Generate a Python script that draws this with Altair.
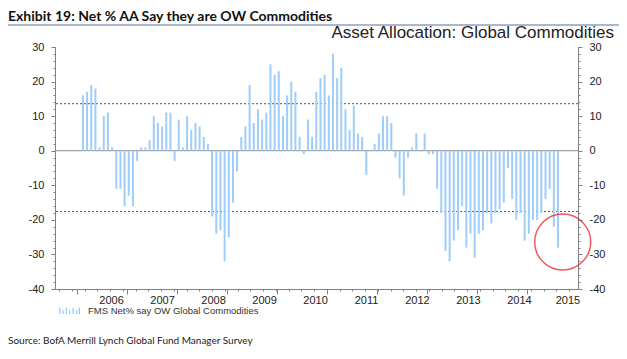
import altair as alt
import pandas as pd

# ---- data (monthly, Jul 2005 .. Jan 2015) ----
start_label = "Jul 2005"
values = [
    16, 17, 19, 18, 1, 10, 11, 1, -11, -11, -16, -13, -16, -3, 1, 1, 3, 10, 8, 7, 11, 11, -3, 9, 1, 10, 6,
    8, 7, 4, 2, -19, -24, -23, -32, -25, -15, -6, 4, 7, 19, 8, 12, 9, 11, 25, 22, 23, 10, 16, 20, 17, 4, -1, 9, 4, 17,
    21, 22, 16, 28, 21, 24, 12, 6, 13, 5, 4, -7, 0, 2, 5, 10, 10, 8, -2, -8, -13, -2, 1, 5, 0, 5, -1, -1, -11, -18, -29,
    -32, -26, -23, -16, -28, -24, -31, -24, -23, -18, -21, -18, -17, -15, -5, -14, -20, -18, -26, -24, -20, -20, -18, -14, -11, -22, -28,
]
months = list(range(len(values)))
year_labels = ["2006", "2007", "2008", "2009", "2010", "2011", "2012", "2013", "2014", "2015"]
year_label_pos = [7.7, 19.7, 31.7, 43.7, 55.7, 67.7, 79.7, 91.7, 103.7, 115.1]
year_tick_pos = [-1.5, 10.5, 22.5, 34.5, 46.5, 58.5, 70.5, 82.5, 94.5, 106.5]
quarter_tick_pos = [-4.5 + 3 * k for k in range(41)]
y_major = [-40, -30, -20, -10, 0, 10, 20, 30]
y_minor = list(range(-40, 31, 2))
mean_plus_sd = 13.6
mean_minus_sd = -17.6

title_text = "Exhibit 19: Net % AA Say they are OW Commodities"
subtitle_text = "Asset Allocation: Global Commodities"
legend_text = "FMS Net% say OW Global Commodities"
source_text = "Source: BofA Merrill Lynch Global Fund Manager Survey"

bar_color = "#9fcdfb"
axis_gray = "#808080"
arial = "Liberation Sans, Arial, Helvetica, sans-serif"
narrow = "Lato, Liberation Sans, sans-serif"

df = pd.DataFrame({"i": months, "v": values, "series": legend_text})
label_map = "{" + ",".join(f"'{p:g}':'{t}'" for p, t in zip(year_label_pos, year_labels)) + "}"

xs = alt.Scale(domain=[-5.5, 117.6], nice=False, zero=False)
ys = alt.Scale(domain=[-40, 30], nice=False, zero=False)

common = dict(grid=False, title=None, domainColor=axis_gray, tickColor=axis_gray,
              labelFont=arial, labelFontSize=11, labelColor="#222222")

swatch_path = ("M-1,0.33h0.13v-0.6h-0.13Z M-0.68,0.33h0.13v-0.35h-0.13Z M-0.36,0.33h0.13v-0.6h-0.13Z "
               "M-0.04,0.33h0.13v-0.35h-0.13Z M0.28,0.33h0.13v-0.6h-0.13Z M0.6,0.33h0.13v-0.35h-0.13Z "
               "M0.87,0.33h0.13v-0.6h-0.13Z")

bars = alt.Chart(df).mark_bar(width=2).encode(
    x=alt.X("i:Q", scale=xs, axis=alt.Axis(orient="bottom", values=year_tick_pos, labels=False,
                                           tickSize=5, **common)),
    y=alt.Y("v:Q", scale=ys, stack=None,
            axis=alt.Axis(orient="left", values=y_major, tickSize=4, labelPadding=7,
                          labelExpr="'' + datum.value", **common)),
    y2=alt.datum(0),
    color=alt.Color("series:N", scale=alt.Scale(range=[bar_color]),
                    legend=alt.Legend(orient="none", legendX=4, legendY=253, title=None, padding=0,
                                      symbolType=swatch_path, symbolSize=441, symbolStrokeWidth=0,
                                      labelFont=arial, labelFontSize=9.5, labelColor="#333333",
                                      labelOffset=8, labelLimit=400)),
)

minor_layer = alt.Chart(df).mark_point(opacity=0).encode(
    x=alt.X("i:Q", scale=xs, axis=alt.Axis(orient="bottom", values=quarter_tick_pos, labels=False,
                                           tickSize=2, domain=False, **common)),
    y=alt.Y("v:Q", scale=ys, axis=alt.Axis(orient="left", values=y_minor, labels=False,
                                           tickSize=2, domain=False, **common)),
)

right_layer = alt.Chart(df).mark_point(opacity=0).encode(
    x=alt.X("i:Q", scale=xs, axis=alt.Axis(orient="bottom", values=year_label_pos, tickSize=0,
                                           domain=False, labelPadding=5,
                                           labelExpr=f"{label_map}[''+datum.value]", **common)),
    y=alt.Y("v:Q", scale=ys, axis=alt.Axis(orient="right", values=y_major, tickSize=4,
                                           labelPadding=7, labelExpr="'' + datum.value", **common)),
)

right_minor = alt.Chart(df).mark_point(opacity=0).encode(
    x=alt.X("i:Q", scale=xs, axis=None),
    y=alt.Y("v:Q", scale=ys, axis=alt.Axis(orient="right", values=y_minor, labels=False,
                                           tickSize=2, domain=False, **common)),
)

zero_rule = alt.Chart(pd.DataFrame({"y": [0]})).mark_rule(color="#8c8c8c", strokeWidth=1).encode(
    y=alt.Y("y:Q", scale=ys, axis=None))

sd_rules = alt.Chart(pd.DataFrame({"y": [mean_plus_sd, mean_minus_sd]})).mark_rule(
    color="#555555", strokeWidth=1, strokeDash=[2, 2]).encode(y=alt.Y("y:Q", scale=ys, axis=None))

circle = alt.Chart(pd.DataFrame({"i": [months[-1]], "v": [-26.4]})).mark_point(
    shape="circle", size=3136, color="#e8141b", strokeWidth=1.5, filled=False).encode(
    x=alt.X("i:Q", scale=xs, axis=None), y=alt.Y("v:Q", scale=ys, axis=None))

def text_layer(txt, x, y, **kw):
    return alt.Chart(pd.DataFrame({"t": [txt]})).mark_text(**kw).encode(
        text="t:N", x=alt.value(x), y=alt.value(y))

title = text_layer(title_text, -47, -26, align="left", baseline="alphabetic", font=narrow,
                   fontSize=14, fontWeight="bold", color="#111111")
title_rule = alt.Chart(pd.DataFrame({"a": [0]})).mark_rule(color="#8da0be", strokeWidth=1.5).encode(
    x=alt.value(-55), x2=alt.value(572), y=alt.value(-22))
subtitle = text_layer(subtitle_text, 559, -9, align="right", baseline="alphabetic",
                      font=arial, fontSize=17, color="#222222")
source = text_layer(source_text, -47, 297, align="left", baseline="alphabetic", font=narrow,
                    fontSize=10, color="#222222")

chart = alt.layer(
    zero_rule, sd_rules, bars, minor_layer, right_layer, right_minor, circle,
    title_rule, title, subtitle, source,
).resolve_scale(x="independent", y="independent").properties(
    width=523, height=242,
    autosize=alt.AutoSizeParams(type="none"),
    padding={"left": 47, "top": 39, "right": 41, "bottom": 62},
).configure_view(stroke=None)

chart.save("out.html", embed_options={"renderer": "svg", "actions": False})
